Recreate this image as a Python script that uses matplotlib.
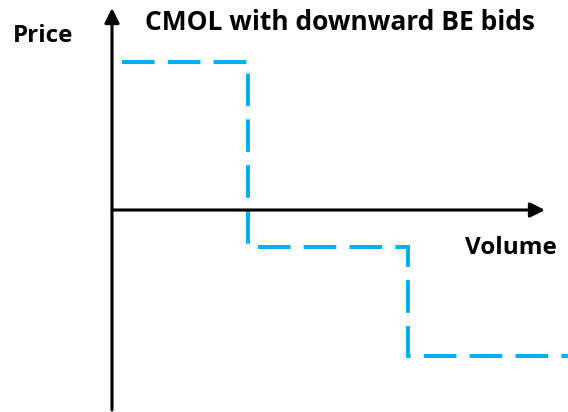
import matplotlib
matplotlib.use("Agg")
import matplotlib.pyplot as plt

# step curve of the bids (volume breakpoints and price levels)
volume = [0.10, 1.36, 2.96, 4.56]
price = [1.48, -0.37, -1.46]

# axis extents
x_axis_end = 4.33
y_axis_bottom = -2.00
y_axis_top = 2.02

title = "CMOL with downward BE bids"
xlabel = "Volume"
ylabel = "Price"

blue = "#00B0F0"

fig = plt.figure(figsize=(5.68, 4.12), dpi=100)
ax = fig.add_axes([0, 0, 1, 1])
ax.set_xlim(-1.12, 4.56)
ax.set_ylim(-2.02, 2.10)
ax.axis("off")

# axes with arrow heads
arrow = dict(arrowstyle="-|>", lw=2.2, color="black", mutation_scale=22,
             shrinkA=0, shrinkB=0)
ax.annotate("", xy=(0, y_axis_top), xytext=(0, y_axis_bottom), arrowprops=arrow)
ax.annotate("", xy=(x_axis_end, 0), xytext=(0, 0), arrowprops=arrow)

# dashed step line
xs, ys = [], []
for i, p in enumerate(price):
    xs += [volume[i], volume[i + 1]]
    ys += [p, p]
lw = 2.9
line, = ax.plot(xs, ys, color=blue, lw=lw, solid_joinstyle="miter",
                dash_joinstyle="miter", dash_capstyle="butt")
line.set_dashes([23.5 / lw, 9.5 / lw])

font = dict(family="Open Sans", weight="bold", color="black")
ax.text(2.28, 1.87, title, ha="center", va="center", fontsize=19, **font)
ax.text(-0.69, 1.74, ylabel, ha="center", va="center", fontsize=17.5, **font)
ax.text(3.99, -0.38, xlabel, ha="center", va="center", fontsize=17.5, **font)

fig.savefig("out.png", dpi=100)
